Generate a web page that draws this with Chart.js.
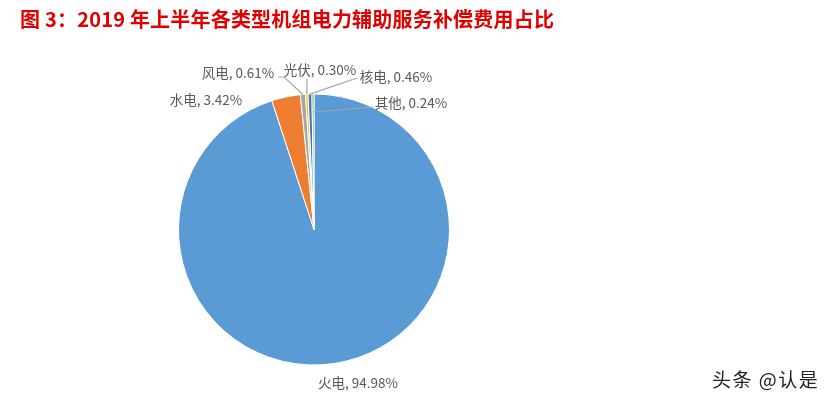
<!DOCTYPE html>
<html>
<head>
<meta charset="utf-8">
<script src="https://cdn.jsdelivr.net/npm/chart.js@4.4.0/dist/chart.umd.min.js"></script>
<style>
    html, body { margin: 0; padding: 0; background: #fff; }
    #wrap { position: relative; width: 834px; height: 401px; }
    #title { position: absolute; left: 20px; top: 4px; line-height: 20px; font: bold 20px "Noto Sans CJK SC"; letter-spacing: 0.2px; color: #e00000; white-space: nowrap; }
    #mark { position: absolute; left: 712px; top: 365px; line-height: 20px; font: 19px "Noto Sans CJK SC"; letter-spacing: 1.5px; color: #222; white-space: nowrap; }
    canvas { position: absolute; left: 0; top: 0; }
</style>
</head>
<body>
<div id="wrap">
    <canvas id="shareChart" width="834" height="401"></canvas>
    <div id="title">图 3：2019 年上半年各类型机组电力辅助服务补偿费用占比</div>
    <div id="mark">头条 @认是</div>
</div>
<script>
const categories = ['火电', '水电', '风电', '光伏', '核电', '其他'];
const shares = [94.98, 3.42, 0.61, 0.30, 0.46, 0.24];
const sliceColors = ['#5B9BD5', '#ED7D31', '#A5A5A5', '#FFC000', '#4472C4', '#70AD47'];

// label centres and leader elbows (pixels), one per slice
const labelSpots = [
    { x: 358, y: 383 },
    { x: 206, y: 100 },
    { x: 238, y: 73, leader: [[278, 77], [284, 77]] },
    { x: 320, y: 70, leader: [[307, 79]] },
    { x: 396, y: 77, leader: [[357, 78]] },
    { x: 411, y: 103, leader: [[373, 107]], depth: 0.867 }
];

// Draw data labels with leader lines
const pieLabels = {
    id: 'pieLabels',
    afterDatasetsDraw(chart) {
        const ctx = chart.ctx;
        const arcs = chart.getDatasetMeta(0).data;
        ctx.save();
        ctx.font = '13.5px "Noto Sans CJK SC"';
        ctx.fillStyle = '#595959';
        ctx.textAlign = 'center';
        ctx.textBaseline = 'middle';
        arcs.forEach((arc, i) => {
            const spot = labelSpots[i];
            ctx.fillText(`${categories[i]}, ${shares[i].toFixed(2)}%`, spot.x, spot.y);
            if (!spot.leader) return;
            const mid = (arc.startAngle + arc.endAngle) / 2;
            const r = arc.outerRadius * (spot.depth || 1);
            ctx.beginPath();
            ctx.strokeStyle = '#a6a6a6';
            ctx.lineWidth = 1.2;
            ctx.moveTo(spot.leader[0][0], spot.leader[0][1]);
            spot.leader.slice(1).forEach(p => ctx.lineTo(p[0], p[1]));
            ctx.lineTo(arc.x + Math.cos(mid) * r, arc.y + Math.sin(mid) * r);
            ctx.stroke();
        });
        ctx.restore();
    }
};

const ctx = document.getElementById('shareChart').getContext('2d');
new Chart(ctx, {
    type: 'pie',
    data: {
        labels: categories,
        datasets: [{
            data: shares,
            backgroundColor: sliceColors,
            borderColor: '#ffffff',
            borderWidth: 1,
            radius: 135.5
        }]
    },
    options: {
        responsive: false,
        animation: false,
        events: [],
        layout: {
            padding: { left: 40, right: 246, top: 60, bottom: 2 }
        },
        plugins: {
            legend: { display: false },
            tooltip: { enabled: false }
        }
    },
    plugins: [pieLabels]
});
</script>
</body>
</html>
